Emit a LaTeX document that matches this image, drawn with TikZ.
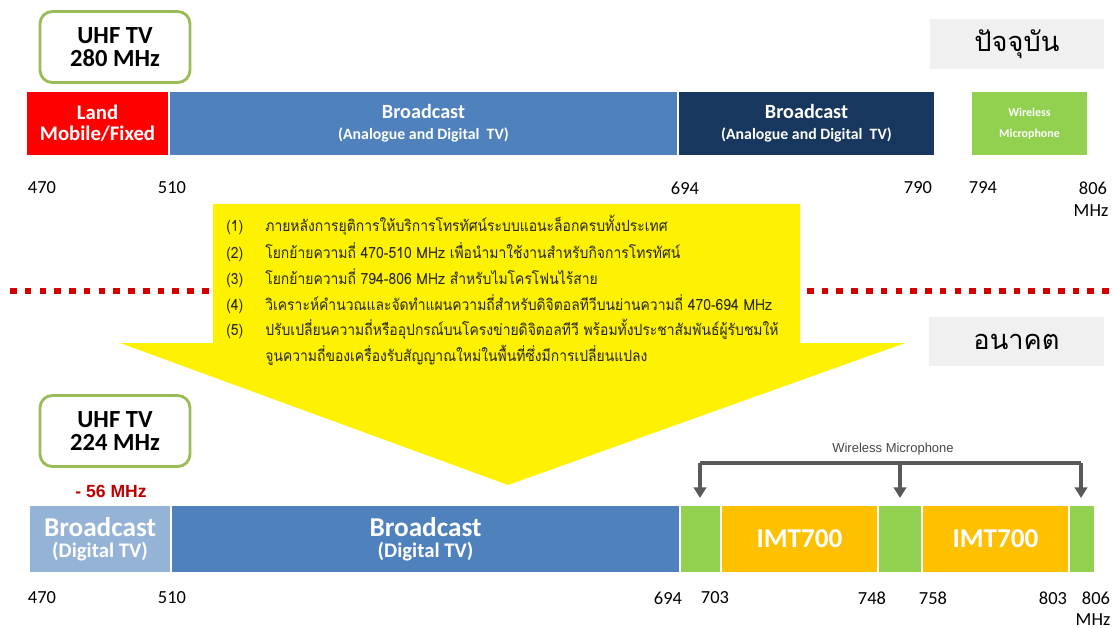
\documentclass[tikz,border=0pt]{standalone}
\usepackage{fontspec}
\setmainfont{Carlito}
\newfontfamily\thaifont[Script=Thai]{Loma}
\newfontfamily\thainarrow[Script=Thai, FakeStretch=0.9]{Loma}
\newfontfamily\arialfont{Liberation Sans}
\usetikzlibrary{arrows.meta}
\definecolor{bandred}{HTML}{FF0000}
\definecolor{bandblue}{HTML}{4F81BD}
\definecolor{bandnavy}{HTML}{17375E}
\definecolor{bandgreen}{HTML}{92D050}
\definecolor{bandlight}{HTML}{95B3D7}
\definecolor{bandorange}{HTML}{FFC000}
\definecolor{boxgreen}{HTML}{9BBB59}
\definecolor{tagred}{HTML}{C00000}
\definecolor{dotred}{HTML}{D40000}
\definecolor{brkgray}{HTML}{595959}
\definecolor{nowgray}{HTML}{F0F0F0}
\newcommand{\sz}[2]{\fontsize{#1}{#2}\selectfont}
\tikzset{
    band/.style={inner sep=0, minimum height=1.26cm, text=white, align=center,
        font=\bfseries},
    lowband/.style={band, minimum height=1.32cm},
    uhfbox/.style={draw=boxgreen, line width=1.6pt, rounded corners=7pt,
        minimum width=3cm, minimum height=1.42cm, align=center,
        font=\sz{14}{14}\bfseries},
    eraname/.style={fill=nowgray, minimum width=3.5cm, minimum height=1cm,
        font=\thaifont\sz{15.5}{18}},
    freq/.style={inner sep=0, font=\sz{10.5}{12}},
    note/.style={inner sep=0, anchor=base west, text=black!85,
        font=\thainarrow\sz{8.8}{11}},
    brk/.style={brkgray, line width=1.8pt}
}

\begin{document}
\begin{tikzpicture}[x=0.02cm, y=-0.02cm]
	\useasboundingbox (0,0) rectangle (1115,628);

	% present allocation
	\node (uhf1) [uhfbox] at (115,47) {UHF TV\\[-1pt]280 MHz};
	\node (now) [eraname] at (1017,44) {ปัจจุบัน};
	\node (land) [band, fill=bandred, minimum width=2.82cm] at (97.5,123.5)
		{\sz{11.8}{13}Land\\\sz{11.8}{13}Mobile/Fixed};
	\node (bca) [band, fill=bandblue, minimum width=10.14cm] at (423.5,123.5)
		{\sz{11.5}{12}Broadcast\\\sz{9}{11}(Analogue and Digital\ \ TV)};
	\node (bcb) [band, fill=bandnavy, minimum width=5.1cm] at (806.5,123.5)
		{\sz{11.5}{12}Broadcast\\\sz{9}{11}(Analogue and Digital\ \ TV)};
	\node (wm) [band, fill=bandgreen, minimum width=2.3cm] at (1029.5,123.5)
		{\sz{6.8}{11}Wireless\\\sz{6.8}{11}Microphone};

	\node (t470) [freq] at (42,188) {470};
	\node (t510) [freq] at (172,188) {510};
	\node (t694) [freq] at (685,188) {694};
	\node (t790) [freq] at (918,188) {790};
	\node (t794) [freq] at (983,188) {794};
	\node (t806) [freq] at (1093,188) {806};
	\node (tmhz) [freq] at (1091,211) {MHz};

	% dividing line and the arrow
	\draw[dotred, line width=3.8pt, dash pattern=on 3.8pt off 4.6pt] (10,291) -- (1110,291);
	\fill[yellow] (213,204) -- (800,204) -- (800,343) -- (905,343) -- (508,485)
		-- (120,343) -- (213,343) -- cycle;

	\node (n1) [note] at (226,232) {(1)};
	\node (n2) [note] at (226,258) {(2)};
	\node (n3) [note] at (226,284) {(3)};
	\node (n4) [note] at (226,310) {(4)};
	\node (n5) [note] at (226,335) {(5)};
	\node (s1) [note] at (265,232) {ภายหลังการยุติการให้บริการโทรทัศน์ระบบแอนะล็อกครบทั้งประเทศ};
	\node (s2) [note] at (265,258) {โยกย้ายความถี่ 470-510 MHz เพื่อนำมาใช้งานสำหรับกิจการโทรทัศน์};
	\node (s3) [note] at (265,284) {โยกย้ายความถี่ 794-806 MHz สำหรับไมโครโฟนไร้สาย};
	\node (s4) [note] at (265,310) {วิเคราะห์คำนวณและจัดทำแผนความถี่สำหรับดิจิตอลทีวีบนย่านความถี่ 470-694 MHz};
	\node (s5) [note] at (265,335) {ปรับเปลี่ยนความถี่หรืออุปกรณ์บนโครงข่ายดิจิตอลทีวี พร้อมทั้งประชาสัมพันธ์ผู้รับชมให้};
	\node (s6) [note] at (265,361) {จูนความถี่ของเครื่องรับสัญญาณใหม่ในพื้นที่ซึ่งมีการเปลี่ยนแปลง};

	% future allocation
	\node (next) [eraname] at (1016.5,341.5) {อนาคต};
	\node (uhf2) [uhfbox] at (115,431) {UHF TV\\[-1pt]224 MHz};
	\node (cut) [inner sep=0, text=tagred, font=\arialfont\sz{10}{12}\bfseries]
		at (111,491) {- 56 MHz};

	\node (bcl) [lowband, fill=bandlight, minimum width=2.8cm] at (100,539)
		{\sz{15.5}{15}Broadcast\\\sz{11.8}{14}(Digital TV)};
	\node (bcd) [lowband, fill=bandblue, minimum width=10.14cm] at (425.5,539)
		{\sz{15.5}{15}Broadcast\\\sz{11.8}{14}(Digital TV)};
	\node (g1) [lowband, fill=bandgreen, minimum width=0.78cm] at (700.5,539) {};
	\node (imt1) [lowband, fill=bandorange, minimum width=3.1cm] at (799.5,539)
		{\sz{15.5}{16}IMT700};
	\node (g2) [lowband, fill=bandgreen, minimum width=0.84cm] at (900,539) {};
	\node (imt2) [lowband, fill=bandorange, minimum width=2.9cm] at (995.5,539)
		{\sz{15.5}{16}IMT700};
	\node (g3) [lowband, fill=bandgreen, minimum width=0.48cm] at (1082,539) {};

	\node (b470) [freq] at (42,598) {470};
	\node (b510) [freq] at (172,598) {510};
	\node (b694) [freq] at (668,598) {694};
	\node (b703) [freq] at (715,598) {703};
	\node (b748) [freq] at (872,598) {748};
	\node (b758) [freq] at (933,598) {758};
	\node (b803) [freq] at (1053,598) {803};
	\node (b806) [freq] at (1096,598) {806};
	\node (bmhz) [freq] at (1093,620) {MHz};

	% wireless microphone bracket
	\node (wml) [inner sep=0, text=brkgray!80!black, font=\arialfont\sz{7.4}{9}]
		at (893,449) {Wireless Microphone};
	\coordinate (k1) at (700,463);
	\coordinate (k2) at (900,463);
	\coordinate (k3) at (1081,463);
	\coordinate (e1) at (700,498);
	\coordinate (e2) at (900,498);
	\coordinate (e3) at (1081,498);
	\draw[brk] (k1) -- (k3);
	\draw[brk, -{Triangle[length=6pt, width=7pt]}] (k1) -- (e1);
	\draw[brk, -{Triangle[length=6pt, width=7pt]}] (k2) -- (e2);
	\draw[brk, -{Triangle[length=6pt, width=7pt]}] (k3) -- (e3);
\end{tikzpicture}
\end{document}
